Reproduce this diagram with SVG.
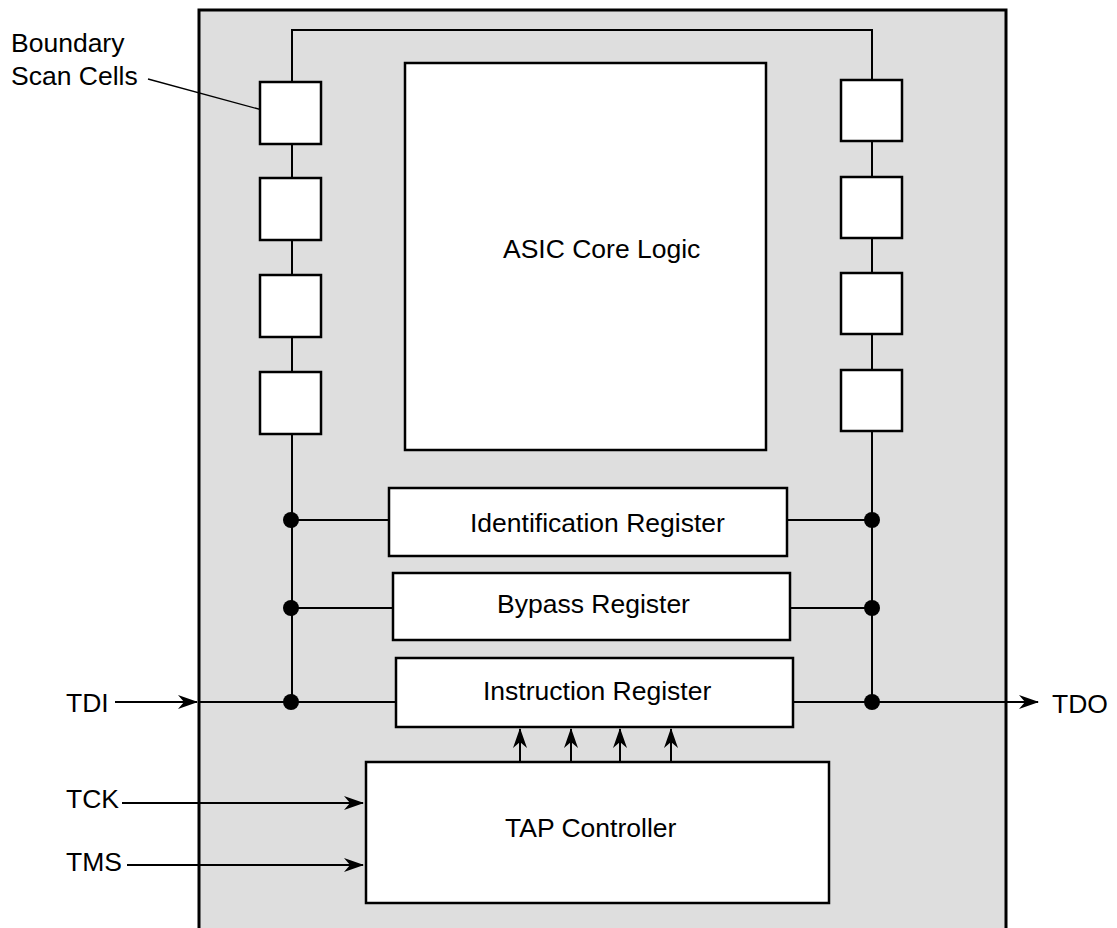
<svg xmlns="http://www.w3.org/2000/svg" width="1117" height="928" viewBox="0 0 1117 928">
<style>
.box{fill:#fff;stroke:#000;stroke-width:2.5}
.w{fill:none;stroke:#000;stroke-width:2}
.t{font-family:"Liberation Sans",Arial,sans-serif;font-size:26.5px;fill:#000}
.dot{fill:#000}
</style>
<defs>
<marker id="ah" markerUnits="userSpaceOnUse" markerWidth="24" markerHeight="18" refX="0" refY="0" orient="auto" overflow="visible">
<path d="M1,0 L-19,-7 L-13,0 L-19,7 Z" fill="#000"/>
</marker>
</defs>
<rect x="0" y="0" width="1117" height="928" fill="#fff"/>
<g id="chip">
<rect x="199" y="10" width="807" height="930" fill="#dedede" stroke="#000" stroke-width="3"/>
</g>
<g id="connectors">
<path class="w" d="M292,82 L292,30 L872,30 L872,80"/>
<path class="w" d="M292,144 L292,702"/>
<path class="w" d="M872,140 L872,702"/>
<path class="w" d="M291,520 L389,520"/>
<path class="w" d="M291,608 L393,608"/>
<path class="w" d="M199,702 L396,702"/>
<path class="w" d="M787,520 L872,520"/>
<path class="w" d="M790,608 L872,608"/>
<path class="w" d="M793,702 L1038,702" marker-end="url(#ah)"/>
<path class="w" d="M115,702 L197,702" marker-end="url(#ah)"/>
<path class="w" d="M122,803 L363,803" marker-end="url(#ah)"/>
<path class="w" d="M127,865 L363,865" marker-end="url(#ah)"/>
<path class="w" d="M520,762 L520,729" marker-end="url(#ah)"/>
<path class="w" d="M571,762 L571,729" marker-end="url(#ah)"/>
<path class="w" d="M620,762 L620,729" marker-end="url(#ah)"/>
<path class="w" d="M671,762 L671,729" marker-end="url(#ah)"/>
<path d="M148,79 L277,114" fill="none" stroke="#000" stroke-width="1.3"/>
<circle class="dot" cx="291" cy="520" r="8"/>
<circle class="dot" cx="291" cy="608" r="8"/>
<circle class="dot" cx="291" cy="702" r="8"/>
<circle class="dot" cx="872" cy="520" r="8"/>
<circle class="dot" cx="872" cy="608" r="8"/>
<circle class="dot" cx="872" cy="702" r="8"/>
</g>
<g id="left-cells">
<rect class="box" x="260" y="82" width="61" height="62"/>
<rect class="box" x="260" y="178" width="61" height="62"/>
<rect class="box" x="260" y="275" width="61" height="62"/>
<rect class="box" x="260" y="372" width="61" height="62"/>
</g>
<g id="right-cells">
<rect class="box" x="841" y="80" width="61" height="61"/>
<rect class="box" x="841" y="177" width="61" height="61"/>
<rect class="box" x="841" y="273" width="61" height="61"/>
<rect class="box" x="841" y="370" width="61" height="61"/>
</g>
<g id="asic-core">
<rect class="box" x="405" y="63" width="361" height="387"/>
<text class="t" x="503" y="258">ASIC Core Logic</text>
</g>
<g id="id-register">
<rect class="box" x="389" y="488" width="398" height="68"/>
<text class="t" x="470" y="532">Identification Register</text>
</g>
<g id="bypass-register">
<rect class="box" x="393" y="573" width="397" height="67"/>
<text class="t" x="497" y="613">Bypass Register</text>
</g>
<g id="instruction-register">
<rect class="box" x="396" y="658" width="397" height="69"/>
<text class="t" x="483" y="700">Instruction Register</text>
</g>
<g id="tap-controller">
<rect class="box" x="366" y="762" width="463" height="141"/>
<text class="t" x="505" y="837">TAP Controller</text>
</g>
<g id="labels">
<text class="t" x="11" y="52">Boundary</text>
<text class="t" x="11" y="85">Scan Cells</text>
<text class="t" x="66" y="712">TDI</text>
<text class="t" x="66" y="808">TCK</text>
<text class="t" x="66" y="871">TMS</text>
<text class="t" x="1052" y="713">TDO</text>
</g>
</svg>
